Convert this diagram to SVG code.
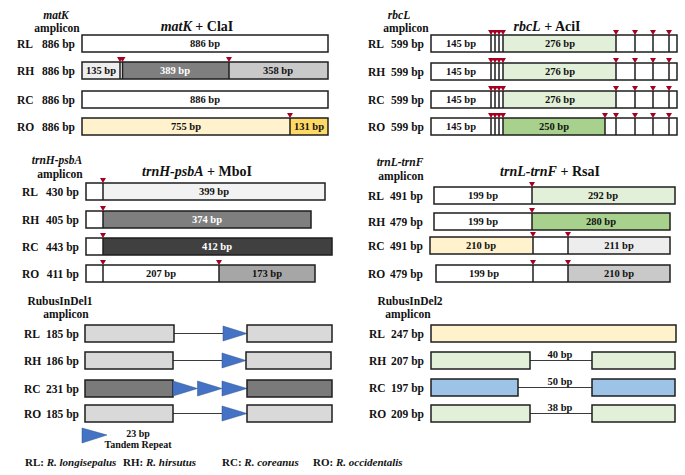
<svg xmlns="http://www.w3.org/2000/svg" xmlns:xlink="http://www.w3.org/1999/xlink" width="685" height="475" viewBox="0 0 685 475">
<style>
text{font-family:"Liberation Serif","Times New Roman",serif;font-weight:bold;fill:#111}
.lbl{font-size:11.5px}
.val{font-size:11.5px;text-anchor:end}
.in{font-size:10.5px;text-anchor:middle}
.w{fill:#fff}
.ttl{font-size:14px;text-anchor:middle}
.hd{font-size:11.5px;text-anchor:middle}
.sm{font-size:10px;text-anchor:middle}
.it{font-style:italic}
.bar{stroke:#1e1e1e;stroke-width:1.5}
.ol{fill:none}
.seg{stroke:none}
.cut{stroke:#1e1e1e;stroke-width:1.5}
.mk{fill:#a50021}
.tri{fill:#4472c4;stroke:#2f528f;stroke-width:0.5}
.ln{stroke:#3a3a3a;stroke-width:1}
.ft{font-size:11px}
</style>
<defs>
<path id="m" d="M-3,-5 L3,-5 L0,0 Z" class="mk"/>
</defs>
<rect width="685" height="475" fill="#fff"/>

<!-- ===== matK panel ===== -->
<g id="matK-header">
<text class="hd it" x="56" y="19">matK</text>
<text class="hd" x="57" y="32">amplicon</text>
<text class="ttl" x="197" y="31"><tspan class="it">matK</tspan> + ClaI</text>
</g>
<g id="matK-RL">
<text class="lbl" x="17" y="47.5">RL</text><text class="val" x="75" y="47.5">886 bp</text>
<rect class="bar" x="82" y="35" width="246" height="17" fill="#fff"/>
<text class="in" x="205" y="47">886 bp</text>
</g>
<g id="matK-RH">
<text class="lbl" x="17" y="74.5">RH</text><text class="val" x="75" y="74.5">886 bp</text>
<rect class="seg" x="82" y="62" width="38" height="17" fill="#ededed"/>
<rect class="seg" x="122" y="62" width="107" height="17" fill="#7f7f7f"/>
<rect class="seg" x="229" y="62" width="99" height="17" fill="#c9c9c9"/>
<rect class="bar ol" x="82" y="62" width="246" height="17"/>
<line class="cut" x1="120" y1="62" x2="120" y2="79"/><line class="cut" x1="122.5" y1="62" x2="122.5" y2="79"/>
<line class="cut" x1="229" y1="62" x2="229" y2="79"/>
<use xlink:href="#m" x="120" y="62"/><use xlink:href="#m" x="122.5" y="62"/><use xlink:href="#m" x="229" y="62"/>
<text class="in" x="101" y="74">135 bp</text>
<text class="in w" x="175" y="74">389 bp</text>
<text class="in" x="278" y="74">358 bp</text>
</g>
<g id="matK-RC">
<text class="lbl" x="17" y="103.5">RC</text><text class="val" x="75" y="103.5">886 bp</text>
<rect class="bar" x="82" y="91" width="246" height="17" fill="#fff"/>
<text class="in" x="205" y="103">886 bp</text>
</g>
<g id="matK-RO">
<text class="lbl" x="17" y="130.5">RO</text><text class="val" x="75" y="130.5">886 bp</text>
<rect class="seg" x="82" y="118" width="208" height="17" fill="#fff2cc"/>
<rect class="seg" x="290" y="118" width="38" height="17" fill="#ffd966"/>
<rect class="bar ol" x="82" y="118" width="246" height="17"/>
<line class="cut" x1="290" y1="118" x2="290" y2="135"/>
<use xlink:href="#m" x="290" y="118"/>
<text class="in" x="186" y="130">755 bp</text>
<text class="in" x="309" y="130">131 bp</text>
</g>

<!-- ===== rbcL panel ===== -->
<g id="rbcL-header">
<text class="hd it" x="399" y="19">rbcL</text>
<text class="hd" x="406" y="32">amplicon</text>
<text class="ttl" x="547" y="31"><tspan class="it">rbcL</tspan> + AciI</text>
</g>
<g id="rbcL-RL">
<text class="lbl" x="368" y="47.5">RL</text><text class="val" x="424" y="47.5">599 bp</text>
<rect class="seg" x="431" y="35" width="246" height="17" fill="#fff"/>
<rect class="seg" x="503" y="35" width="113" height="17" fill="#e2f0d9"/>
<rect class="bar ol" x="431" y="35" width="246" height="17"/>
<path class="cut" d="M491,35v17M495,35v17M499,35v17M503,35v17M616,35v17M635,35v17M653,35v17M669,35v17"/>
<use xlink:href="#m" x="491" y="35"/><use xlink:href="#m" x="495" y="35"/><use xlink:href="#m" x="499" y="35"/><use xlink:href="#m" x="503" y="35"/>
<use xlink:href="#m" x="616" y="35"/><use xlink:href="#m" x="635" y="35"/><use xlink:href="#m" x="653" y="35"/><use xlink:href="#m" x="669" y="35"/>
<text class="in" x="461" y="47">145 bp</text>
<text class="in" x="560" y="47">276 bp</text>
</g>
<g id="rbcL-RH">
<text class="lbl" x="368" y="75.5">RH</text><text class="val" x="424" y="75.5">599 bp</text>
<rect class="seg" x="431" y="63" width="246" height="17" fill="#fff"/>
<rect class="seg" x="503" y="63" width="113" height="17" fill="#e2f0d9"/>
<rect class="bar ol" x="431" y="63" width="246" height="17"/>
<path class="cut" d="M491,63v17M495,63v17M499,63v17M503,63v17M616,63v17M635,63v17M653,63v17M669,63v17"/>
<use xlink:href="#m" x="491" y="63"/><use xlink:href="#m" x="495" y="63"/><use xlink:href="#m" x="499" y="63"/><use xlink:href="#m" x="503" y="63"/>
<use xlink:href="#m" x="616" y="63"/><use xlink:href="#m" x="635" y="63"/><use xlink:href="#m" x="653" y="63"/><use xlink:href="#m" x="669" y="63"/>
<text class="in" x="461" y="75">145 bp</text>
<text class="in" x="560" y="75">276 bp</text>
</g>
<g id="rbcL-RC">
<text class="lbl" x="368" y="103.5">RC</text><text class="val" x="424" y="103.5">599 bp</text>
<rect class="seg" x="431" y="91" width="246" height="17" fill="#fff"/>
<rect class="seg" x="503" y="91" width="113" height="17" fill="#e2f0d9"/>
<rect class="bar ol" x="431" y="91" width="246" height="17"/>
<path class="cut" d="M491,91v17M495,91v17M499,91v17M503,91v17M616,91v17M635,91v17M653,91v17M669,91v17"/>
<use xlink:href="#m" x="491" y="91"/><use xlink:href="#m" x="495" y="91"/><use xlink:href="#m" x="499" y="91"/><use xlink:href="#m" x="503" y="91"/>
<use xlink:href="#m" x="616" y="91"/><use xlink:href="#m" x="635" y="91"/><use xlink:href="#m" x="653" y="91"/><use xlink:href="#m" x="669" y="91"/>
<text class="in" x="461" y="103">145 bp</text>
<text class="in" x="560" y="103">276 bp</text>
</g>
<g id="rbcL-RO">
<text class="lbl" x="368" y="130.5">RO</text><text class="val" x="424" y="130.5">599 bp</text>
<rect class="seg" x="431" y="118" width="246" height="17" fill="#fff"/>
<rect class="seg" x="503" y="118" width="102" height="17" fill="#a9d18e"/>
<rect class="bar ol" x="431" y="118" width="246" height="17"/>
<path class="cut" d="M491,118v17M495,118v17M499,118v17M503,118v17M605,118v17M616,118v17M635,118v17M653,118v17M669,118v17"/>
<use xlink:href="#m" x="491" y="118"/><use xlink:href="#m" x="495" y="118"/><use xlink:href="#m" x="499" y="118"/><use xlink:href="#m" x="503" y="118"/>
<use xlink:href="#m" x="605" y="118"/><use xlink:href="#m" x="616" y="118"/><use xlink:href="#m" x="635" y="118"/><use xlink:href="#m" x="653" y="118"/><use xlink:href="#m" x="669" y="118"/>
<text class="in" x="461" y="130">145 bp</text>
<text class="in" x="554" y="130">250 bp</text>
</g>

<!-- ===== trnH-psbA panel ===== -->
<g id="trnH-header">
<text class="hd it" x="57" y="164">trnH-psbA</text>
<text class="hd" x="60" y="178">amplicon</text>
<text class="ttl" x="197" y="176"><tspan class="it">trnH-psbA</tspan> + MboI</text>
</g>
<g id="trnH-RL">
<text class="lbl" x="22" y="195.5">RL</text><text class="val" x="79" y="195.5">430 bp</text>
<rect class="seg" x="86" y="183" width="17" height="17" fill="#fff"/>
<rect class="seg" x="103" y="183" width="222" height="17" fill="#f2f2f2"/>
<rect class="bar ol" x="86" y="183" width="239" height="17"/>
<line class="cut" x1="103" y1="183" x2="103" y2="200"/>
<use xlink:href="#m" x="103" y="183"/>
<text class="in" x="214" y="195">399 bp</text>
</g>
<g id="trnH-RH">
<text class="lbl" x="22" y="223.5">RH</text><text class="val" x="79" y="223.5">405 bp</text>
<rect class="seg" x="86" y="211" width="17" height="17" fill="#fff"/>
<rect class="seg" x="103" y="211" width="208" height="17" fill="#7f7f7f"/>
<rect class="bar ol" x="86" y="211" width="225" height="17"/>
<line class="cut" x1="103" y1="211" x2="103" y2="228"/>
<use xlink:href="#m" x="103" y="211"/>
<text class="in w" x="207" y="223">374 bp</text>
</g>
<g id="trnH-RC">
<text class="lbl" x="22" y="250.5">RC</text><text class="val" x="79" y="250.5">443 bp</text>
<rect class="seg" x="86" y="238" width="17" height="17" fill="#fff"/>
<rect class="seg" x="103" y="238" width="229" height="17" fill="#404040"/>
<rect class="bar ol" x="86" y="238" width="246" height="17"/>
<line class="cut" x1="103" y1="238" x2="103" y2="255"/>
<use xlink:href="#m" x="103" y="238"/>
<text class="in w" x="217" y="250">412 bp</text>
</g>
<g id="trnH-RO">
<text class="lbl" x="22" y="277.5">RO</text><text class="val" x="79" y="277.5">411 bp</text>
<rect class="seg" x="86" y="265" width="133" height="17" fill="#fff"/>
<rect class="seg" x="219" y="265" width="96" height="17" fill="#a6a6a6"/>
<rect class="bar ol" x="86" y="265" width="229" height="17"/>
<line class="cut" x1="103" y1="265" x2="103" y2="282"/>
<line class="cut" x1="219" y1="265" x2="219" y2="282"/>
<use xlink:href="#m" x="103" y="265"/><use xlink:href="#m" x="219" y="265"/>
<text class="in" x="161" y="277">207 bp</text>
<text class="in" x="267" y="277">173 bp</text>
</g>

<!-- ===== trnL-trnF panel ===== -->
<g id="trnL-header">
<text class="hd it" x="400" y="166">trnL-trnF</text>
<text class="hd" x="401" y="180">amplicon</text>
<text class="ttl" x="550" y="176"><tspan class="it">trnL-trnF</tspan> + RsaI</text>
</g>
<g id="trnL-RL">
<text class="lbl" x="368" y="199.5">RL</text><text class="val" x="423" y="199.5">491 bp</text>
<rect class="seg" x="434" y="187" width="98" height="17" fill="#fff"/>
<rect class="seg" x="532" y="187" width="143" height="17" fill="#e2f0d9"/>
<rect class="bar ol" x="434" y="187" width="241" height="17"/>
<line class="cut" x1="532" y1="187" x2="532" y2="204"/>
<use xlink:href="#m" x="532" y="187"/>
<text class="in" x="483" y="199">199 bp</text>
<text class="in" x="603" y="199">292 bp</text>
</g>
<g id="trnL-RH">
<text class="lbl" x="368" y="225.5">RH</text><text class="val" x="423" y="225.5">479 bp</text>
<rect class="seg" x="434" y="213" width="98" height="17" fill="#fff"/>
<rect class="seg" x="532" y="213" width="138" height="17" fill="#a9d18e"/>
<rect class="bar ol" x="434" y="213" width="236" height="17"/>
<line class="cut" x1="532" y1="213" x2="532" y2="230"/>
<use xlink:href="#m" x="532" y="213"/>
<text class="in" x="483" y="225">199 bp</text>
<text class="in" x="601" y="225">280 bp</text>
</g>
<g id="trnL-RC">
<text class="lbl" x="368" y="249.5">RC</text><text class="val" x="423" y="249.5">491 bp</text>
<rect class="seg" x="430" y="237" width="103" height="17" fill="#fff2cc"/>
<rect class="seg" x="533" y="237" width="35" height="17" fill="#fff"/>
<rect class="seg" x="568" y="237" width="102" height="17" fill="#ededed"/>
<rect class="bar ol" x="430" y="237" width="240" height="17"/>
<line class="cut" x1="533" y1="237" x2="533" y2="254"/>
<line class="cut" x1="568" y1="237" x2="568" y2="254"/>
<use xlink:href="#m" x="533" y="237"/><use xlink:href="#m" x="568" y="237"/>
<text class="in" x="481" y="249">210 bp</text>
<text class="in" x="619" y="249">211 bp</text>
</g>
<g id="trnL-RO">
<text class="lbl" x="368" y="277.5">RO</text><text class="val" x="423" y="277.5">479 bp</text>
<rect class="seg" x="436" y="265" width="132" height="17" fill="#fff"/>
<rect class="seg" x="568" y="265" width="102" height="17" fill="#c9c9c9"/>
<rect class="bar ol" x="436" y="265" width="234" height="17"/>
<line class="cut" x1="533" y1="265" x2="533" y2="282"/>
<line class="cut" x1="568" y1="265" x2="568" y2="282"/>
<use xlink:href="#m" x="533" y="265"/><use xlink:href="#m" x="568" y="265"/>
<text class="in" x="484" y="277">199 bp</text>
<text class="in" x="619" y="277">210 bp</text>
</g>

<!-- ===== connectors (indel gaps) ===== -->
<g id="connectors">
<line class="ln" x1="174" y1="333.5" x2="223" y2="333.5"/>
<line class="ln" x1="173" y1="360.5" x2="222" y2="360.5"/>
<line class="ln" x1="173" y1="413.5" x2="222" y2="413.5"/>
<line class="ln" x1="530" y1="360.5" x2="592" y2="360.5"/>
<line class="ln" x1="518" y1="387.5" x2="592" y2="387.5"/>
<line class="ln" x1="530" y1="413.5" x2="592" y2="413.5"/>
</g>

<!-- ===== RubusInDel1 panel ===== -->
<g id="indel1-header">
<text class="hd" x="60" y="305">RubusInDel1</text>
<text class="hd" x="66" y="318">amplicon</text>
</g>
<g id="indel1-RL">
<text class="lbl" x="24" y="337.5">RL</text><text class="val" x="79" y="337.5">185 bp</text>
<rect class="bar" x="85" y="325" width="89" height="17" fill="#d9d9d9"/>
<polygon class="tri" points="223,326 247,333.5 223,341"/>
<rect class="bar" x="247" y="325" width="85" height="17" fill="#d9d9d9"/>
</g>
<g id="indel1-RH">
<text class="lbl" x="24" y="364.5">RH</text><text class="val" x="79" y="364.5">186 bp</text>
<rect class="bar" x="85" y="352" width="88" height="17" fill="#d9d9d9"/>
<polygon class="tri" points="222,353 246,360.5 222,368"/>
<rect class="bar" x="246" y="352" width="85" height="17" fill="#d9d9d9"/>
</g>
<g id="indel1-RC">
<text class="lbl" x="24" y="392.5">RC</text><text class="val" x="79" y="392.5">231 bp</text>
<rect class="bar" x="85" y="380" width="88" height="17" fill="#7a7a7a"/>
<polygon class="tri" points="173,381 197.5,388.5 173,396"/>
<polygon class="tri" points="197.5,381 222,388.5 197.5,396"/>
<polygon class="tri" points="222,381 247,388.5 222,396"/>
<rect class="bar" x="247" y="380" width="85" height="17" fill="#7a7a7a"/>
</g>
<g id="indel1-RO">
<text class="lbl" x="24" y="417.5">RO</text><text class="val" x="79" y="417.5">185 bp</text>
<rect class="bar" x="85" y="405" width="88" height="17" fill="#d9d9d9"/>
<polygon class="tri" points="222,406 247,413.5 222,421"/>
<rect class="bar" x="247" y="405" width="85" height="17" fill="#d9d9d9"/>
</g>
<g id="legend-repeat">
<polygon class="tri" points="82,428 107,435 82,443"/>
<text class="sm" x="138" y="437">23 bp</text>
<text class="sm" x="138" y="448">Tandem Repeat</text>
</g>

<!-- ===== RubusInDel2 panel ===== -->
<g id="indel2-header">
<text class="hd" x="410" y="305">RubusInDel2</text>
<text class="hd" x="408" y="318">amplicon</text>
</g>
<g id="indel2-RL">
<text class="lbl" x="369" y="337.5">RL</text><text class="val" x="424" y="337.5">247 bp</text>
<rect class="bar" x="431" y="325" width="245" height="17" fill="#fff2cc"/>
</g>
<g id="indel2-RH">
<text class="lbl" x="369" y="364.5">RH</text><text class="val" x="424" y="364.5">207 bp</text>
<rect class="bar" x="431" y="352" width="99" height="17" fill="#e2f0d9"/>
<rect class="bar" x="592" y="352" width="83" height="17" fill="#e2f0d9"/>
<text class="in" x="560" y="358">40 bp</text>
</g>
<g id="indel2-RC">
<text class="lbl" x="369" y="391.5">RC</text><text class="val" x="424" y="391.5">197 bp</text>
<rect class="bar" x="431" y="379" width="87" height="17" fill="#9dc3e6"/>
<rect class="bar" x="592" y="379" width="83" height="17" fill="#9dc3e6"/>
<text class="in" x="560" y="385">50 bp</text>
</g>
<g id="indel2-RO">
<text class="lbl" x="369" y="417.5">RO</text><text class="val" x="424" y="417.5">209 bp</text>
<rect class="bar" x="431" y="405" width="99" height="17" fill="#e2f0d9"/>
<rect class="bar" x="592" y="405" width="83" height="17" fill="#e2f0d9"/>
<text class="in" x="560" y="411">38 bp</text>
</g>

<!-- ===== footer ===== -->
<g id="species-key">
<text class="ft" x="25" y="466">RL: <tspan class="it">R. longisepalus</tspan></text>
<text class="ft" x="123" y="466">RH: <tspan class="it">R. hirsutus</tspan></text>
<text class="ft" x="222" y="466">RC: <tspan class="it">R. coreanus</tspan></text>
<text class="ft" x="313" y="466">RO: <tspan class="it">R. occidentalis</tspan></text>
</g>
</svg>
